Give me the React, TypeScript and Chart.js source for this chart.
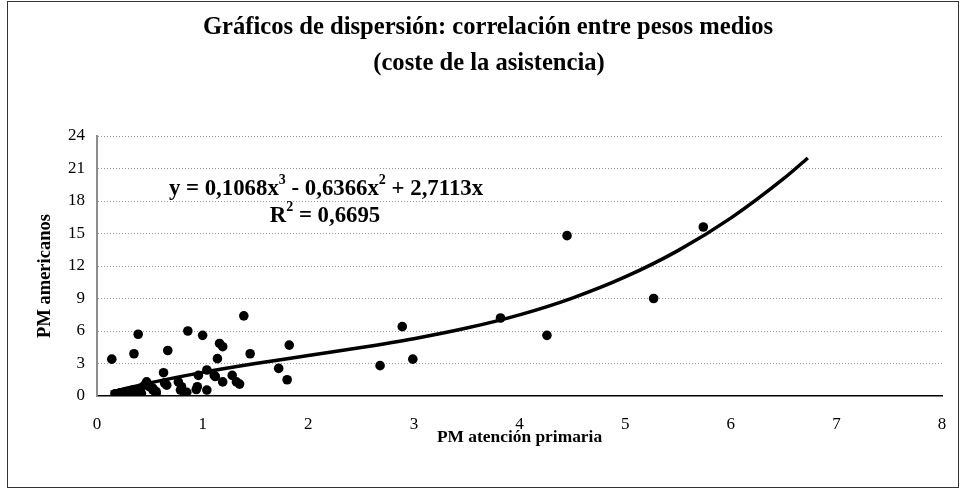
import React, { useEffect, useRef } from "react";
import { Chart, registerables } from "chart.js";

Chart.register(...registerables);

const titleLines = ["Gráficos de dispersión: correlación entre pesos medios", "(coste de la asistencia)"];
const xTitle = "PM atención primaria";
const yTitle = "PM americanos";

const pointX = [
  0.14, 0.35, 0.39, 0.67, 0.86, 1.0, 1.16, 1.19, 1.14, 1.39, 1.45, 1.72, 1.8, 1.82, 2.68, 2.89, 2.99, 3.82, 4.26, 4.45, 5.27, 5.74,
  0.17, 0.2, 0.22, 0.25, 0.29, 0.31, 0.34, 0.39, 0.41, 0.42, 0.45, 0.47, 0.5, 0.53, 0.56, 0.56, 0.63, 0.66, 0.64, 0.77, 0.8, 0.79,
  0.83, 0.85, 0.95, 0.94, 0.96, 1.04, 1.04, 1.11, 1.12, 1.19, 1.28, 1.32, 1.35, 0.53, 0.37,
];
const pointY = [
  3.4, 3.9, 5.7, 4.2, 6.0, 5.6, 4.85, 4.55, 3.45, 7.4, 3.9, 2.55, 1.5, 4.7, 2.8, 6.4, 3.4, 7.2, 5.6, 14.8, 9.0, 15.6,
  0.2, 0.1, 0.3, 0.3, 0.1, 0.2, 0.55, 0.6, 0.7, 0.25, 1.0, 1.3, 0.85, 0.7, 0.4, 0.25, 2.15, 1.0, 1.2, 1.3, 0.86, 0.55,
  0.25, 0.34, 0.86, 0.6, 1.9, 2.4, 0.55, 1.9, 1.8, 1.3, 1.9, 1.3, 1.1, 0.55, 0.45,
];

// trend line
const trendX = [0.13, 0.25, 0.5, 1, 1.5, 2, 2.5, 3, 3.5, 4, 4.5, 5, 5.5, 6, 6.5, 6.73];
const trendY = [0.34, 0.64, 1.21, 2.18, 3.0, 3.73, 4.47, 5.29, 6.27, 7.49, 9.04, 10.99, 13.42, 16.42, 20.06, 21.97];

const xTicks = [0, 1, 2, 3, 4, 5, 6, 7, 8];
const yTicks = [0, 3, 6, 9, 12, 15, 18, 21, 24];

const SERIF = '"Liberation Serif", "Times New Roman", serif';

function drawRich(ctx: CanvasRenderingContext2D, parts: [string, boolean][], cx: number, cy: number, size: number) {
  const big = `bold ${size}px ${SERIF}`;
  const small = `bold ${Math.round(size * 0.62)}px ${SERIF}`;
  let total = 0;
  for (const [t, sup] of parts) {
    ctx.font = sup ? small : big;
    total += ctx.measureText(t).width;
  }
  let x = cx - total / 2;
  ctx.textAlign = "left";
  ctx.textBaseline = "middle";
  for (const [t, sup] of parts) {
    ctx.font = sup ? small : big;
    ctx.fillText(t, x, sup ? cy - size * 0.38 : cy);
    x += ctx.measureText(t).width;
  }
}

const decorPlugin = {
  id: "decor",
  beforeDraw(chart: any) {
    const ctx = chart.ctx;
    ctx.save();
    ctx.fillStyle = "#fff";
    ctx.fillRect(0, 0, chart.width, chart.height);
    ctx.restore();
  },
  afterDraw(chart: any) {
    const ctx: CanvasRenderingContext2D = chart.ctx;
    const area = chart.chartArea;
    ctx.save();
    ctx.fillStyle = "#000";
    // title
    ctx.font = `bold 24.6px ${SERIF}`;
    ctx.textAlign = "center";
    ctx.textBaseline = "middle";
    ctx.fillText(titleLines[0], 488, 28);
    ctx.fillText(titleLines[1], 489, 64);
    // x title
    ctx.font = `bold 17.4px ${SERIF}`;
    ctx.fillText(xTitle, (area.left + area.right) / 2, 438);
    // y title
    ctx.save();
    ctx.font = `bold 18.5px ${SERIF}`;
    ctx.translate(45, 276);
    ctx.rotate(-Math.PI / 2);
    ctx.fillText(yTitle, 0, 0);
    ctx.restore();
    // equation
    drawRich(ctx, [["y = 0,1068x", false], ["3", true], [" - 0,6366x", false], ["2", true], [" + 2,7113x", false]], 326, 189, 22.8);
    drawRich(ctx, [["R", false], ["2", true], [" = 0,6695", false]], 325, 216, 22.8);
    // outer border
    ctx.strokeStyle = "#333";
    ctx.lineWidth = 1;
    ctx.strokeRect(7.5, 1.5, 951, 486);
    ctx.restore();
  },
};

export default function App() {
  const ref = useRef<HTMLCanvasElement | null>(null);
  useEffect(() => {
    if (!ref.current) return;
    const chart = new Chart(ref.current, {
      type: "scatter",
      data: {
        datasets: [
          {
            label: "trend",
            data: trendX.map((x, i) => ({ x, y: trendY[i] })),
            showLine: true,
            borderColor: "#000",
            borderWidth: 3.5,
            pointRadius: 0,
            cubicInterpolationMode: "monotone",
            order: 1,
          } as any,
          {
            label: "PM",
            data: pointX.map((x, i) => ({ x, y: pointY[i] })),
            backgroundColor: "#000",
            borderColor: "#000",
            borderWidth: 0,
            pointRadius: 4.8,
            order: 0,
          },
        ],
      },
      options: {
        responsive: false,
        animation: false,
        layout: { padding: { left: 0, right: 24, top: 136, bottom: 0 } },
        plugins: { legend: { display: false }, title: { display: false }, tooltip: { enabled: false } },
        scales: {
          x: {
            type: "linear",
            min: 0,
            max: 8,
            afterFit: (s: any) => {
              s.height = 93;
            },
            afterBuildTicks: (s: any) => {
              s.ticks = xTicks.map((v) => ({ value: v }));
            },
            grid: { display: false, drawTicks: false },
            border: { display: true, color: "#000", width: 1.5 },
            ticks: { color: "#000", padding: 18, font: { family: SERIF, size: 17 } },
          },
          y: {
            type: "linear",
            min: 0,
            max: 24,
            afterFit: (s: any) => {
              s.width = 97;
            },
            afterBuildTicks: (s: any) => {
              s.ticks = yTicks.map((v) => ({ value: v }));
            },
            grid: {
              drawTicks: false,
              color: (c: any) => (c.tick && c.tick.value === 0 ? "rgba(0,0,0,0)" : "#9a9a9a"),
              lineWidth: 1,
            },
            border: { display: true, color: "#8c8c8c", width: 2, dash: [1, 2] },
            ticks: { color: "#000", padding: 12, font: { family: SERIF, size: 17 } },
          },
        },
      },
      plugins: [decorPlugin],
    });
    return () => chart.destroy();
  }, []);
  return (
    <div style={{ position: "absolute", left: 0, top: 0, width: 966, height: 489 }}>
      <canvas ref={ref} width={966} height={489} style={{ display: "block" }} />
    </div>
  );
}
